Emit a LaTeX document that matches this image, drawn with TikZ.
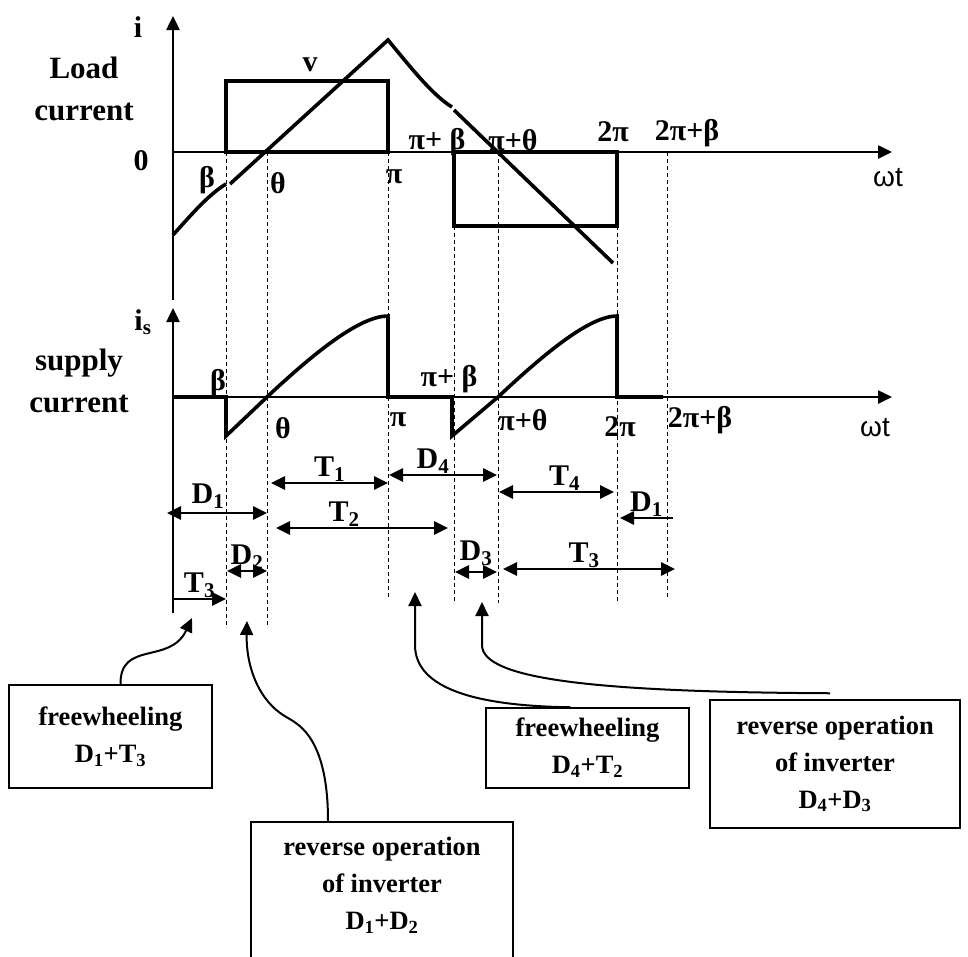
\documentclass[tikz,border=0pt]{standalone}
\usepackage{fontspec}
\setmainfont{Liberation Serif}
\newfontfamily\sansaxis{Liberation Sans}
\usetikzlibrary{arrows.meta,positioning}

\begin{document}
\begin{tikzpicture}[x=1pt,y=-1pt,>={Triangle[length=14pt,width=13pt]},
    font=\bfseries\fontsize{30}{34}\selectfont,
    lbl/.style={inner sep=0pt},
    side/.style={inner sep=0pt,align=center,font=\bfseries\fontsize{31}{42}\selectfont},
    wlbl/.style={inner sep=0pt,font=\sansaxis\mdseries\fontsize{28}{30}\selectfont},
    axisline/.style={line width=2.5pt,->},
    wave/.style={line width=3.6pt},
    guide/.style={line width=0.8pt,dash pattern=on 4pt off 3pt},
    ivl/.style={line width=2.8pt},
    callbox/.style={draw,line width=1.5pt,align=center,inner sep=4pt,font=\bfseries\fontsize{26.5}{37}\selectfont},
    callarrow/.style={line width=2pt,->}]
    \useasboundingbox (0,0) rectangle (968,956);
    \clip (0,0) rectangle (968,956);

    \coordinate (o)     at (173,152);
    \coordinate (os)    at (173,397);
    \coordinate (xb)    at (226,152);
    \coordinate (xth)   at (267,152);
    \coordinate (xpi)   at (388,152);
    \coordinate (xpib)  at (454,152);
    \coordinate (xpith) at (498,152);
    \coordinate (xtpi)  at (617,152);
    \coordinate (xtpib) at (667,152);

    \draw[axisline] (173,300) -- (173,16);
    \draw[axisline] (o) -- (892,152);
    \draw[axisline] (173,613) -- (173,308);
    \draw[axisline] (os) -- (892,397);

    \draw[guide] (xb) -- (xb |- 0,628);
    \draw[guide] (xth) -- (xth |- 0,628);
    \draw[guide] (xpi) -- (xpi |- 0,598);
    \draw[guide] (xpib |- 0,226) -- (xpib |- 0,603);
    \draw[guide] (xpith) -- (xpith |- 0,603);
    \draw[guide] (xtpi |- 0,226) -- (xtpi |- 0,602);
    \draw[guide] (xtpib) -- (xtpib |- 0,598);

    \draw[wave,line width=4pt] (xb) rectangle (388,81);
    \draw[wave,line width=4pt] (xpib) rectangle (617,226);
    \draw[wave] (173,235) .. controls (191,215) and (208,195) .. (226,184);
    \draw[wave] (230,184) -- (388,40) .. controls (408,64) and (432,95) .. (452,107);
    \draw[wave] (454,110) -- (613,263);

    \draw[wave] (os) -- (226,397) -- (226,436) -- (267,397)
        .. controls (315,352) and (360,316) .. (388,316) -- (388,397) -- (452,397)
        -- (452,436) -- (498,397)
        .. controls (546,352) and (590,316) .. (617,316) -- (617,397) -- (663,397);

    \node[lbl] (ilbl) at (138,27) {i};
    \node[side] (load) at (84,89) {Load\\current};
    \node[lbl] (zero) at (141,161) {0};
    \node[lbl] (vlbl) at (310,65) {v};
    \node[lbl] (b1) at (207,180) {β};
    \node[lbl] (th1) at (278,183) {θ};
    \node[lbl] (pi1) at (394,177) {π};
    \node[lbl] (pib1) at (437,142) {π+ β};
    \node[lbl] (pith1) at (513,140) {π+θ};
    \node[lbl] (tpi1) at (613,132) {2π};
    \node[lbl] (tpib1) at (687,133) {2π+β};
    \node[wlbl] (wt1) at (888,178) {ωt};

    \node[lbl] (islbl) at (143,322) {i\textsubscript{s}};
    \node[side] (supply) at (79,381) {supply\\current};
    \node[lbl] (b2) at (218,383) {β};
    \node[lbl] (th2) at (283,428) {θ};
    \node[lbl] (pi2) at (398,420) {π};
    \node[lbl] (pib2) at (449,379) {π+ β};
    \node[lbl] (pith2) at (523,420) {π+θ};
    \node[lbl] (tpi2) at (620,427) {2π};
    \node[lbl] (tpib2) at (700,420) {2π+β};
    \node[wlbl] (wt2) at (875,428) {ωt};

    \draw[ivl,<->] (271,483) -- (388,483) node[lbl,midway,above] (t1) {T\textsubscript{1}};
    \draw[ivl,<->] (389,475) -- (497,475) node[lbl,midway,above,xshift=-10pt] (d4) {D\textsubscript{4}};
    \draw[ivl,<->] (499,492) -- (614,492) node[lbl,midway,above,xshift=8pt] (t4) {T\textsubscript{4}};
    \draw[ivl,<->] (167,513) -- (267,513) node[lbl,midway,above=3pt,xshift=-9pt] (d1a) {D\textsubscript{1}};
    \draw[ivl,->] (673,518) -- (620,518) node[lbl,midway,above] (d1b) {D\textsubscript{1}};
    \draw[ivl,<->] (276,528) -- (448,528) node[lbl,midway,above,xshift=-18pt] (t2) {T\textsubscript{2}};
    \draw[ivl,<->] (227,571) -- (267,571) node[lbl,midway,above] (d2) {D\textsubscript{2}};
    \draw[ivl,->] (173,599) -- (226,599) node[lbl,midway,above] (t3a) {T\textsubscript{3}};
    \draw[ivl,<->] (455,572) -- (497,572) node[lbl,midway,above=5pt] (d3) {D\textsubscript{3}};
    \draw[ivl,<->] (503,569) -- (675,569) node[lbl,midway,above,xshift=-5pt] (t3b) {T\textsubscript{3}};

    \node[callbox,minimum width=203pt,minimum height=103pt] (fw1) at (110.5,736.5)
        {freewheeling\\D\textsubscript{1}+T\textsubscript{3}};
    \node[callbox,minimum width=262pt,minimum height=170pt,anchor=north] (rev1) at (382,821) {};
    \node[lbl,align=center,font=\bfseries\fontsize{26.5}{37}\selectfont,below=16pt of rev1.north] (rev1txt)
        {reverse operation\\of inverter\\D\textsubscript{1}+D\textsubscript{2}};
    \node[callbox,minimum width=203pt,minimum height=80pt] (fw2) at (587.5,748)
        {freewheeling\\D\textsubscript{4}+T\textsubscript{2}};
    \node[callbox,minimum width=250pt,minimum height=128pt] (rev2) at (835,764)
        {reverse operation\\of inverter\\D\textsubscript{4}+D\textsubscript{3}};

    \coordinate (tipa) at (192,618);
    \coordinate (tipb) at (247,621);
    \coordinate (tipc) at (415,592);
    \coordinate (tipd) at (482,602);

    \draw[callarrow] ([xshift=10pt]fw1.north) .. controls (120,640) and (170,665) .. (tipa);
    \draw[callarrow] ([xshift=-54pt]rev1.north) .. controls (328,740) and (300,725) .. (288,718)
        .. controls (255,700) and (246,660) .. (tipb);
    \draw[callarrow] ([xshift=-17pt]fw2.north) .. controls (480,706) and (415,690) .. (415,645) -- (tipc);
    \draw[callarrow] ([xshift=-5pt,yshift=6pt]rev2.north) .. controls (600,692) and (482,680) .. (482,645) -- (tipd);
\end{tikzpicture}
\end{document}
